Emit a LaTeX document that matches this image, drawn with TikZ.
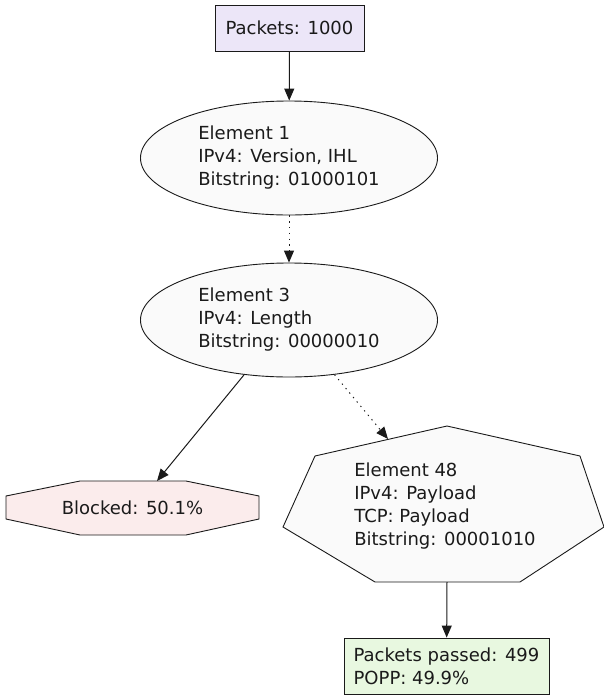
\documentclass[tikz,border=0pt]{standalone}
\usepackage{fontspec}
\setmainfont{DejaVu Sans}
\usetikzlibrary{arrows.meta,shapes.geometric}
\definecolor{lav}{HTML}{ECE6F8}
\definecolor{pinkfill}{HTML}{FBECEC}
\definecolor{greenfill}{HTML}{E8F8E0}
\definecolor{grayfill}{HTML}{FAFAFA}
\definecolor{ink}{HTML}{1A1A1A}
\tikzset{
  lbl/.style={font=\fontsize{18}{23}\selectfont, align=left, inner sep=0pt, text=ink},
  shp/.style={draw=ink, line width=0.9pt},
  edge/.style={draw=ink, line width=1pt, -{Triangle[length=12pt,width=10pt]}},
  dotedge/.style={edge, dash pattern=on 1.3pt off 4.5pt},
}
\begin{document}
\begin{tikzpicture}[x=1pt,y=-1pt]
\useasboundingbox (0,0) rectangle (604,697);
% source box
\node[shp, lbl, fill=lav, minimum width=149pt, minimum height=46pt] (src) at (289.5,28) {Packets: 1000};
% ellipses
\node[shp, lbl, ellipse, fill=grayfill, minimum width=297pt, minimum height=114pt] (e1) at (289,158)
  {Element 1\\IPv4: Version, IHL\\Bitstring: 01000101};
\node[shp, lbl, ellipse, fill=grayfill, minimum width=297pt, minimum height=114pt] (e2) at (289,320)
  {Element 3\\IPv4: Length\\Bitstring: 00000010};
% octagon (blocked)
\draw[shp, fill=pinkfill] (6,496) -- (80,481) -- (186,481) -- (259,496) -- (259,519) -- (186,535) -- (80,535) -- (6,519) -- cycle;
\node[lbl] (blocked) at (132.5,508) {Blocked: 50.1\%};
\coordinate (blockedin) at (157,481);
% septagon (element 48)
\draw[shp, fill=grayfill] (447,426) -- (580,456) -- (604,527) -- (520,582) -- (375,582) -- (283,527) -- (315,456) -- cycle;
\node[lbl] (e48) at (445,506) {Element 48\\IPv4: Payload\\TCP: Payload\\Bitstring: 00001010};
\coordinate (e48in) at (388,439);
\coordinate (e48out) at (447,582);
% passed box
\node[shp, lbl, fill=greenfill, minimum width=205pt, minimum height=56pt] (pass) at (446.5,666)
  {Packets passed: 499\\POPP: 49.9\%};
% edges
\draw[edge] (src) -- (e1);
\draw[dotedge] (e1) -- (e2);
\draw[edge] (e2) -- (blockedin);
\draw[dotedge] (e2) -- (e48in);
\draw[edge] (e48out) -- (pass);
\end{tikzpicture}
\end{document}
